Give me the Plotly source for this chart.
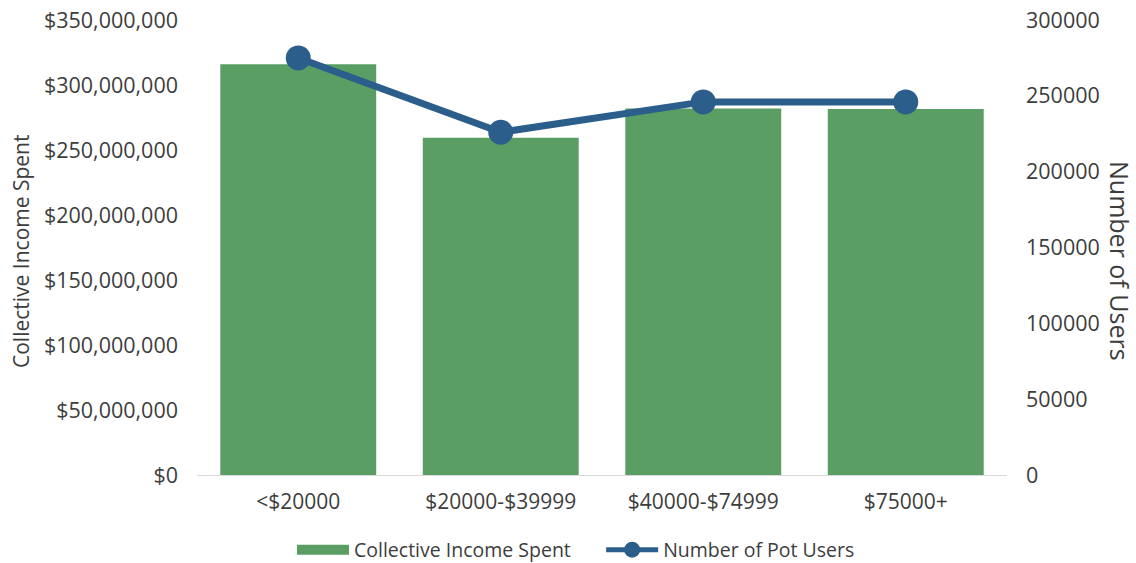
import plotly.graph_objects as go

categories = ["<$20000", "$20000-$39999", "$40000-$74999", "$75000+"]
income_spent = [316000000, 259500000, 282000000, 281500000]
pot_users = [275000, 226000, 246000, 246000]
left_ticks = [0, 50000000, 100000000, 150000000, 200000000, 250000000, 300000000, 350000000]
right_ticks = [0, 50000, 100000, 150000, 200000, 250000, 300000]

FONT = "'Open Sans', 'Noto Sans', sans-serif"
TXT = "#3d3d3d"
GREEN = "#5A9E64"
BLUE = "#2C5E8C"

W, H = 1136, 563
L, T = 197, 20
R = W - 1007
B = H - 475
pw = W - L - R
ph = H - T - B


def px_x(page_x):
    return (page_x - L) / pw


def px_y(page_y):
    return ((H - B) - page_y) / ph


fig = go.Figure()
fig.add_trace(go.Bar(
    x=categories, y=income_spent, name="Collective Income Spent",
    marker=dict(color=GREEN, line=dict(width=0)), showlegend=False,
))
fig.add_trace(go.Scatter(
    x=categories, y=pot_users, name="Number of Pot Users", yaxis="y2",
    mode="lines+markers",
    line=dict(color=BLUE, width=7),
    marker=dict(color=BLUE, size=25),
    showlegend=False,
))
# legend-only entries
fig.add_trace(go.Scatter(
    x=[None], y=[None], name="Collective Income Spent" + "\u00a0" * 5, mode="lines",
    line=dict(color=GREEN, width=12), showlegend=True,
))
fig.add_trace(go.Scatter(
    x=[None], y=[None], name="Number of Pot Users", mode="lines+markers",
    line=dict(color=BLUE, width=5), marker=dict(color=BLUE, size=16),
    showlegend=True,
))

fig.update_layout(
    width=W, height=H,
    margin=dict(l=L, r=R, t=T, b=B, autoexpand=False),
    plot_bgcolor="white", paper_bgcolor="white",
    font=dict(family=FONT, size=21, color=TXT),
    bargap=0.23,
    showlegend=True,
    legend=dict(orientation="h", x=px_x(576), xanchor="center",
                y=px_y(550), yanchor="middle",
                font=dict(size=19.5, color=TXT), itemsizing="trace",
                itemwidth=52, tracegroupgap=0, bgcolor="rgba(0,0,0,0)"),
    xaxis=dict(showgrid=False, showline=True, linecolor="#d9d9d9", linewidth=1,
               ticks="", ticklabelstandoff=8, tickfont=dict(size=21, color=TXT)),
    yaxis=dict(range=[0, 350000000], tickvals=left_ticks,
               ticktext=["$" + f"{v:,}" for v in left_ticks],
               showgrid=False, zeroline=False, showline=False,
               ticks="", ticklabelstandoff=18, ticklabeloverflow="allow",
               tickfont=dict(size=21.5, color=TXT)),
    yaxis2=dict(range=[0, 300000], tickvals=right_ticks,
                ticktext=[str(v) for v in right_ticks],
                overlaying="y", side="right", showgrid=False, zeroline=False,
                showline=False, ticks="", ticklabelstandoff=18, ticklabeloverflow="allow",
                tickfont=dict(size=21.5, color=TXT)),
    annotations=[
        dict(text="Collective Income Spent", textangle=-90, x=px_x(21), xref="paper",
             y=px_y(252), yref="paper", showarrow=False,
             font=dict(size=21, color=TXT), xanchor="center", yanchor="middle"),
        dict(text="Number of Users", textangle=90, x=px_x(1120), xref="paper",
             y=px_y(261), yref="paper", showarrow=False,
             font=dict(size=25, color=TXT), xanchor="center", yanchor="middle"),
    ],
)
fig.write_html("out.html", config={"displayModeBar": False},
               post_script="document.body.style.margin='0';")
